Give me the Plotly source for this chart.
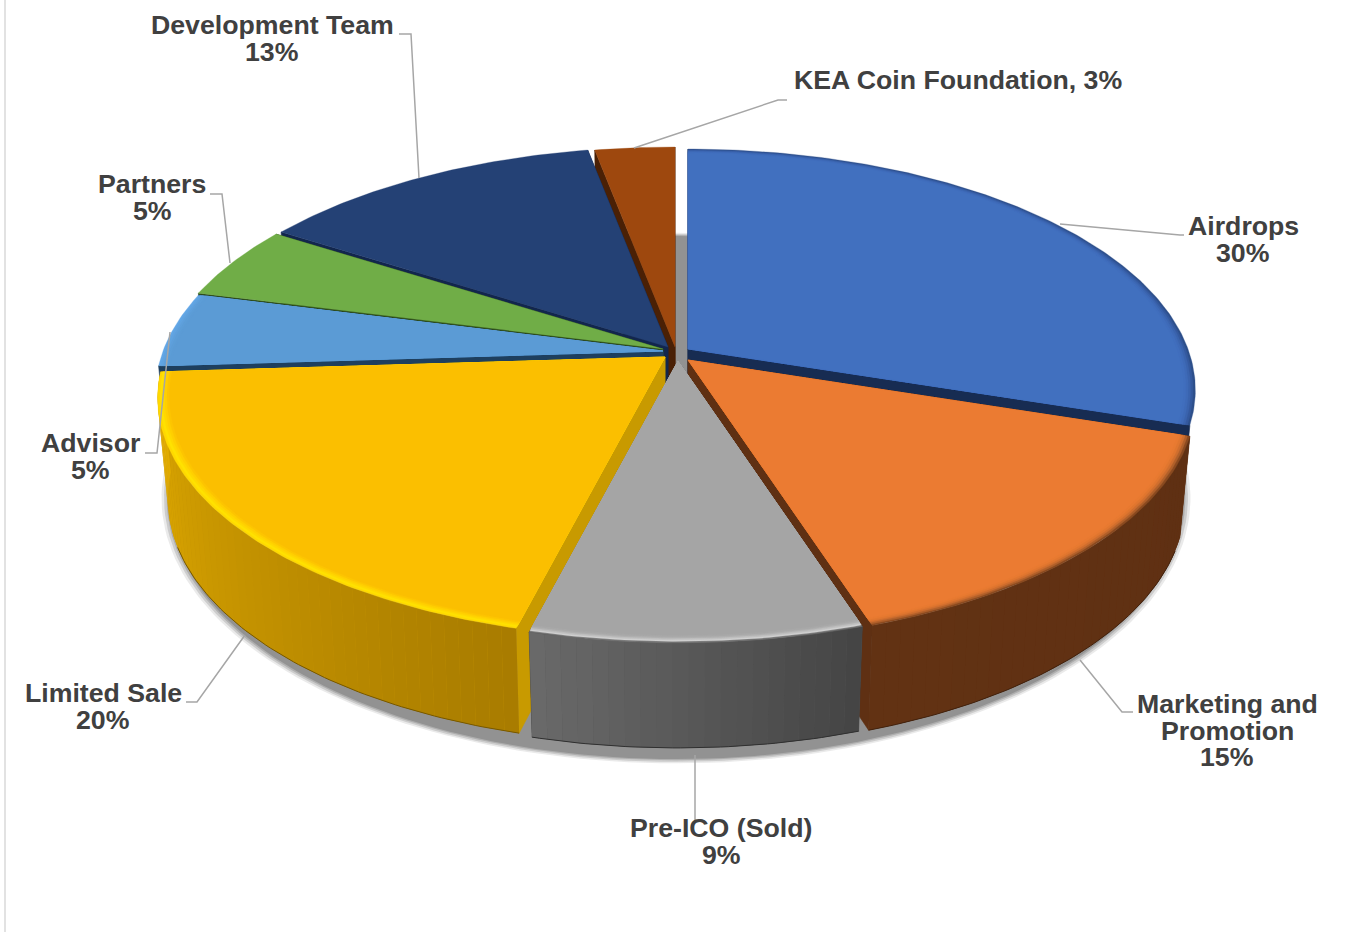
import math
import plotly.graph_objects as go

# ---------- data ----------
categories = ["Airdrops", "Marketing and Promotion", "Pre-ICO (Sold)", "Limited Sale",
              "Advisor", "Partners", "Development Team", "KEA Coin Foundation"]
values = [30, 15, 9, 20, 5, 5, 13, 3]

# ---------- style ----------
top_colors = ["#4170bf", "#eb7b32", "#a5a5a5", "#fbbf00", "#5b9bd5", "#70ad47", "#244175", "#9e480e"]
cut_colors = ["#172c52", "#5f3013", "#424242", "#c89a00", "#1e3f5e", "#2c4a1c", "#12264d", "#4a2005"]
wall_from = ["", "#5f3013", "#444444", "#a87c00", "", "", "", ""]
wall_to = ["", "#623213", "#6a6a6a", "#e2ab00", "", "", "", ""]
apex = [(688, 349), (688, 360), (678, 361), (665, 357), (663, 351), (663, 349), (668, 347), (675, 347)]
bevel = [
    ["#2d4f8a", "#34599e", "#3a63ad", "#3e6ab7", "#406ebd"],
    ["#8a4a20", "#b0602a", "#cf6e2e", "#e0762f", "#e87a31"],
    ["#6f6f6f", "#d0d0d0", "#c0c0c0", "#b0b0b0", "#a8a8a8"],
    ["#ffd800", "#ffe200", "#ffd800", "#ffcf00", "#fdc500"],
    ["#62a6e6", "#60a3e0", "#5e9fdb", "#5c9dd7", "#5b9bd5"],
    [], [], [],
]
RX, RY, K = 500.0, 234.0, 0.17     # projection of the unit disc
BOTTOM_SCALE = 0.98

label_lines = [["Airdrops", "30%"], ["Marketing and", "Promotion", "15%"], ["Pre-ICO (Sold)", "9%"],
               ["Limited Sale", "20%"], ["Advisor", "5%"], ["Partners", "5%"],
               ["Development Team", "13%"], ["KEA Coin Foundation, 3%"]]
label_x = [1243, 1227, 721, 103, 90, 152, 272, 958]
label_y = [226, 704, 828, 693, 443, 184, 25, 80]
LINE_STEP = 26.7
leaders = [
    [(1060, 224), (1180, 235), (1184, 235)],
    [(1080, 660), (1122, 712), (1133, 712)],
    [(695, 755), (695, 820)],
    [(245, 635), (197, 702), (186, 702)],
    [(170, 332), (157, 453), (145, 453)],
    [(230, 263), (222, 194), (210, 194)],
    [(419, 178), (411, 34), (399, 34)],
    [(634, 148), (778, 100), (787, 100)],
]


# ---------- projection helpers ----------
def hex_mix(a, b, t):
    ca = [int(a[i:i + 2], 16) for i in (1, 3, 5)]
    cb = [int(b[i:i + 2], 16) for i in (1, 3, 5)]
    return "rgb(%d,%d,%d)" % tuple(round(p + (q - p) * t) for p, q in zip(ca, cb))


def rim(theta, c, r=1.0, low=False):
    u, v = math.sin(theta) * r, -math.cos(theta) * r
    s = 1.0 / (1.0 - K * v)
    dx, dy = RX * u * s, RY * v * s
    if low:
        return c[0] + dx * BOTTOM_SCALE, c[1] + dy + 100 + 5 * v
    return c[0] + dx, c[1] + dy


def poly(points, color, line=0.6):
    xs = [p[0] for p in points] + [points[0][0]]
    ys = [p[1] for p in points] + [points[0][1]]
    return go.Scatter(x=xs, y=ys, mode="lines", fill="toself", fillcolor=color,
                      line=dict(color=color, width=line), hoverinfo="skip", showlegend=False)


total = sum(values)
edges = [0.0]
for val in values:
    edges.append(edges[-1] + val / total * 2 * math.pi)

fig = go.Figure()

# shadow beneath the pie
for grow, col in [(1.014, "rgba(150,150,150,0.2)"), (1.009, "rgba(150,150,150,0.35)"),
                  (1.004, "rgba(150,150,150,0.55)"), (1.0, "rgba(146,146,146,1)")]:
    pts = []
    for i in range(240):
        t = i / 240 * 2 * math.pi
        u, v = math.sin(t), -math.cos(t)
        s = 1.0 / (1.0 - K * v)
        pts.append((676 + 515 * grow * u * s / 1.03, 453 + 254 * grow * v * s))
    fig.add_trace(poly(pts, col, 0))

# painter's order: back slices first, front slices last
order = [7, 6, 5, 4, 0, 3, 1, 2]
for idx in order:
    a0, a1 = edges[idx], edges[idx + 1]
    c = apex[idx]
    low_c = (c[0], c[1] + 100)
    # radial cut faces
    for a in (a0, a1):
        fig.add_trace(poly([c, rim(a, c), rim(a, c, low=True), low_c], cut_colors[idx]))
    n = max(4, int(math.degrees(a1 - a0) / 1.5))
    arc = [a0 + (a1 - a0) * j / (n * 2) for j in range(n * 2 + 1)]
    # outer wall, only for the slices whose wall can be seen
    if wall_from[idx]:
        mean = hex_mix(wall_from[idx], wall_to[idx], 0.5)
        fig.add_trace(poly([rim(t, c) for t in arc] + [rim(t, c, low=True) for t in reversed(arc)], mean, 0))
        for j in range(n):
            t0 = a0 + (a1 - a0) * j / n
            t1 = a0 + (a1 - a0) * (j + 1) / n
            col = hex_mix(wall_from[idx], wall_to[idx], (j + 0.5) / n)
            fig.add_trace(poly([rim(t0, c), rim(t1, c), rim(t1, c, low=True), rim(t0, c, low=True)], col, 0))
        # dark line along the wall foot
        foot = [rim(t, c, low=True) for t in arc if -math.cos(t) > 0.35]
        fig.add_trace(go.Scatter(x=[p[0] for p in foot], y=[p[1] for p in foot], mode="lines",
                                 line=dict(color=hex_mix(wall_from[idx], "#000000", 0.3), width=1),
                                 hoverinfo="skip", showlegend=False))
    # top face, with nested bands for the soft bevel
    bands = bevel[idx] + [top_colors[idx]]
    for b, col in enumerate(bands):
        r = 1.0 - 0.0045 * b
        fig.add_trace(poly([c] + [rim(t, c, r) for t in arc], col, 0.3))

# leader lines
shapes = [dict(type="line", xref="x", yref="y", x0=5, x1=5, y0=0, y1=932,
               line=dict(color="#e2e2e2", width=2), layer="below")]
for seg in leaders:
    path = "M " + " L ".join(f"{p[0]},{p[1]}" for p in seg)
    shapes.append(dict(type="path", xref="x", yref="y", path=path,
                       line=dict(color="#a6a6a6", width=1.5)))

# labels
annotations = []
for lines, lx, ly in zip(label_lines, label_x, label_y):
    for i, line in enumerate(lines):
        annotations.append(dict(x=lx, y=ly + i * LINE_STEP, xref="x", yref="y", text=f"<b>{line}</b>",
                                showarrow=False, xanchor="center", yanchor="middle",
                                font=dict(family="Liberation Sans", size=26.7, color="#404040")))

fig.update_layout(
    width=1346, height=932, margin=dict(l=0, r=0, t=0, b=0),
    paper_bgcolor="white", plot_bgcolor="white", showlegend=False,
    xaxis=dict(range=[0, 1346], visible=False, fixedrange=True),
    yaxis=dict(range=[932, 0], visible=False, fixedrange=True),
    shapes=shapes, annotations=annotations,
)
fig.write_html("out.html", config=dict(displayModeBar=False),
               post_script="document.body.style.margin='0';document.body.style.overflow='hidden';")
